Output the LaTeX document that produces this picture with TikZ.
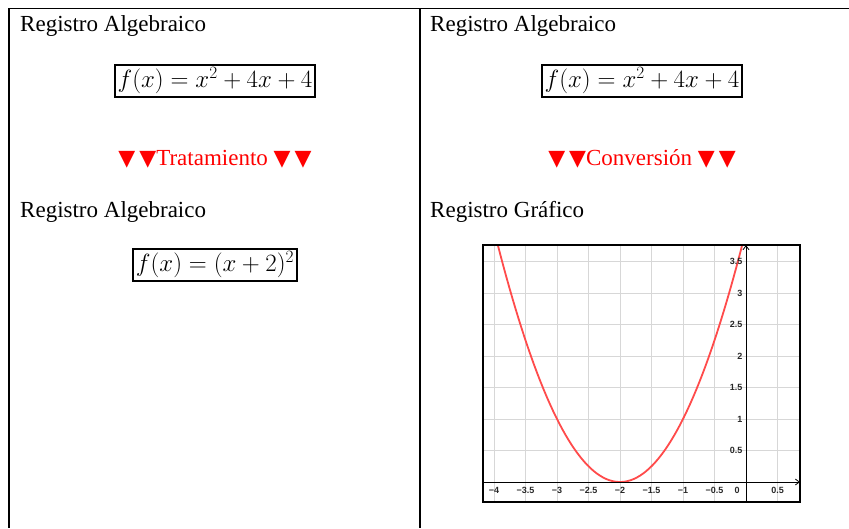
\documentclass[tikz,border=0pt]{standalone}
\usepackage{fontspec}
\setmainfont{Liberation Serif}
\setsansfont{Liberation Sans}
\newfontfamily\trifont{DejaVu Sans}
\usepackage{tikz}
\usetikzlibrary{arrows.meta, positioning}
\definecolor{regred}{RGB}{255,0,0}
\definecolor{curvered}{RGB}{255,75,75}
\definecolor{gridgray}{RGB}{215,215,215}
\definecolor{ticktext}{RGB}{40,40,40}
\newcommand{\tri}{{\trifont\fontsize{22}{26}\selectfont ▼}}
\newcommand{\tripair}{\tri\hspace{4pt}\tri}

\begin{document}
\begin{tikzpicture}[x=1pt, y=-1pt, font=\fontsize{23}{27}\selectfont,
    regtitle/.style={anchor=base west, inner sep=0pt},
    formula/.style={draw, line width=1.9pt, inner sep=2.5pt},
    steplabel/.style={text=regred, inner sep=0pt, anchor=base},
    ticklab/.style={font=\sffamily\bfseries\fontsize{9}{10}\selectfont, text=ticktext, inner sep=1pt}]
  \useasboundingbox (0,0) rectangle (849,528);
  % table lines
  \draw[line width=1pt] (9,8) -- (849,8);
  \draw[line width=1.2pt] (9,8) -- (9,528);
  \draw[line width=1.2pt] (420,8) -- (420,528);
  % left column
  \node[regtitle] (algA) at (20,31) {Registro Algebraico};
  \node[formula] (fA) at (215,81) {$f(x) = x^2 + 4x + 4$};
  \node[steplabel] (trat) at (215,165) {\tripair Tratamiento \tripair};
  \node[regtitle] (algB) at (20,217) {Registro Algebraico};
  \node[formula] (fB) at (215,265) {$f(x) = (x + 2)^2$};
  % right column
  \node[regtitle] (algC) at (430,31) {Registro Algebraico};
  \node[formula] (fC) at (642,81) {$f(x) = x^2 + 4x + 4$};
  \node[steplabel] (conv) at (642,165) {\tripair Conversión \tripair};
  \node[regtitle] (graf) at (430,217) {Registro Gráfico};
  % graph
  \begin{scope}[shift={(746,482)}, x=63pt, y=63pt]
    \draw[gridgray, line width=0.9pt, step=0.5] (-4.17,-0.32) grid (0.857,3.76);
    \begin{scope}
      \clip (-4.17,-0.32) rectangle (0.857,3.76);
      \draw[curvered, line width=1.8pt, domain=-3.95:-0.05, samples=80]
        plot (\x, {(\x+2)*(\x+2)});
    \end{scope}
    \draw[line width=0.8pt, -{Straight Barb[length=4pt, width=6pt]}] (-4.17,0) -- (0.857,0);
    \draw[line width=0.8pt, -{Straight Barb[length=4pt, width=6pt]}] (0,-0.32) -- (0,3.76);
    \draw[line width=2pt] (-4.17,-0.32) rectangle (0.857,3.76);
    \foreach \v/\t [count=\i] in {-4/−4, -3.5/−3.5, -3/−3, -2.5/−2.5, -2/−2,
        -1.5/−1.5, -1/−1, -0.5/−0.5, 0.5/0.5}
      \node[ticklab] (xl\i) at (\v,-0.13) {\t};
    \node[ticklab] (xl0) at (-0.14,-0.13) {0};
    \foreach \v [count=\i] in {0.5,1,1.5,2,2.5,3,3.5}
      \node[ticklab, anchor=east] (yl\i) at (-0.04,\v) {\v};
  \end{scope}
\end{tikzpicture}
\end{document}
